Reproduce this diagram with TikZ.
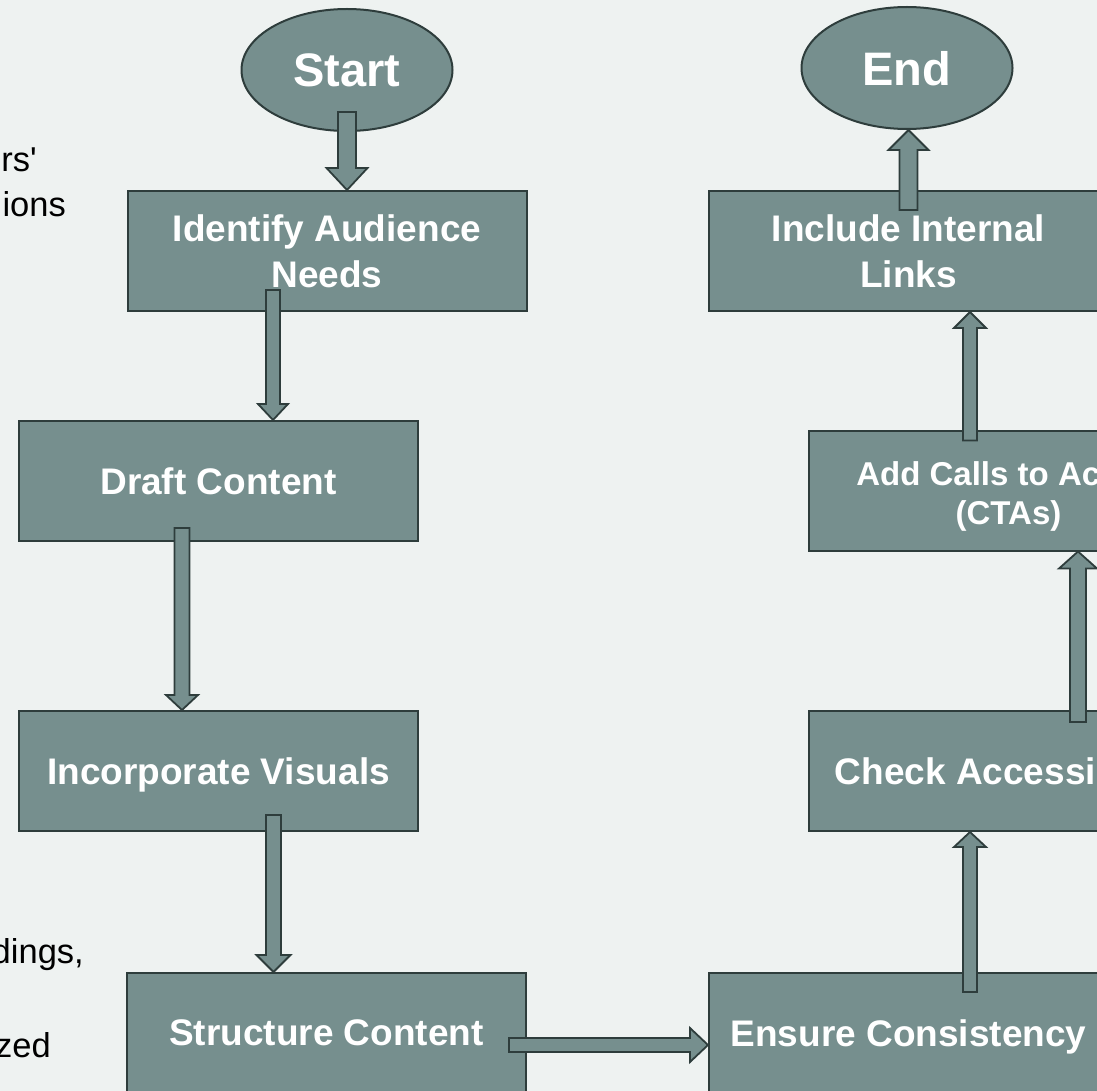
\documentclass[tikz,border=0pt]{standalone}
\usepackage{fontspec}
\setmainfont{Liberation Sans}
\newfontfamily\fragfont{Liberation Sans}
\usetikzlibrary{calc,shapes.geometric}
\definecolor{bgc}{HTML}{EEF2F1}
\definecolor{boxc}{HTML}{768F8E}
\definecolor{edgec}{HTML}{2E3D3C}
\tikzset{
  base/.style={draw=edgec, fill=boxc, line width=2pt, text=white, align=center, inner sep=0pt,
    font=\bfseries\fontsize{37}{46}\selectfont},
  stepbox/.style={base, rectangle, minimum width=399pt, minimum height=120pt},
  oneline/.style={text depth=0pt},
  term/.style={base, ellipse, minimum width=211pt, minimum height=122pt,
    font=\bfseries\fontsize{47}{56}\selectfont},
  barrow/.style={draw=edgec, fill=boxc, line width=1.8pt, line join=miter},
  frag/.style={anchor=base east, inner sep=0pt, text=black,
    font=\fragfont\fontsize{34.5}{40}\selectfont}
}
% block arrow: from, to, shaft half width, head half width, head length
\newcommand\blockarrow[5]{%
  \coordinate (ba-h) at ($(#2)!#5!(#1)$);
  \draw[barrow] ($(#1)!#3!90:(#2)$) -- ($(ba-h)!#3!90:(#2)$) -- ($(ba-h)!#4!90:(#2)$)
    -- (#2) -- ($(ba-h)!#4!-90:(#2)$) -- ($(ba-h)!#3!-90:(#2)$) -- ($(#1)!#3!-90:(#2)$) -- cycle;
}
\begin{document}
\begin{tikzpicture}[x=1pt, y=-1pt]
\useasboundingbox (0,0) rectangle (1097,1091);
\fill[bgc] (0,0) rectangle (1097,1091);
\clip (0,0) rectangle (1097,1091);

% partially visible text at the left edge
\node[frag] (f1) at (37,172) {rs'};
\node[frag] (f2) at (66,217) {ions};
\node[frag] (f3) at (84,963) {dings,};
\node[frag] (f4) at (51,1057) {zed};

% terminals
\node[term, oneline] (start) at (347,70) {Start};
\node[term, oneline] (end) at (907,68) {End};

% steps
\node[stepbox] (idn) at (327,251) {Identify Audience\\Needs};
\node[stepbox, oneline] (draft) at (218.5,481) {Draft Content};
\node[stepbox, oneline] (inc) at (218.5,771) {Incorporate Visuals};
\node[stepbox, oneline] (str) at (326.5,1033) {Structure Content};
\node[stepbox, oneline] (ens) at (908.5,1033) {Ensure Consistency};
\node[stepbox, oneline] (chk) at (1008.5,771) {Check Accessibility};
\node[stepbox, font=\bfseries\fontsize{33}{39}\selectfont] (cta) at (1008.5,490.5)
  {\rule{0pt}{35pt}Add Calls to Action\\(CTAs)};
\node[stepbox] (il) at (908.5,251) {Include Internal\\Links};

% arrow end points
\coordinate (a1s) at ($(start.center)+(0,42)$);
\coordinate (a1e) at (a1s |- idn.north);
\coordinate (a2s) at ($(idn.south)+(-54,-22)$);
\coordinate (a2e) at (a2s |- draft.north);
\coordinate (a3s) at ($(draft.south)+(-36.5,-14)$);
\coordinate (a3e) at (a3s |- inc.north);
\coordinate (a4s) at ($(inc.south)+(55,-17)$);
\coordinate (a4e) at (a4s |- str.north);
\coordinate (a5s) at ($(str.east)+(-18,12)$);
\coordinate (a5e) at (a5s -| ens.west);
\coordinate (a6s) at ($(ens.north)+(61.5,20)$);
\coordinate (a6e) at (a6s |- chk.south);
\coordinate (a7s) at ($(chk.north)+(69.5,12)$);
\coordinate (a7e) at (a7s |- cta.south);
\coordinate (a8s) at ($(cta.north)+(-38.5,11)$);
\coordinate (a8e) at (a8s |- il.south);
\coordinate (a9s) at ($(il.north)+(0,20)$);
\coordinate (a9e) at (a9s |- end.south);

% block arrows
\blockarrow{a1s}{a1e}{9pt}{20.5pt}{22pt}
\blockarrow{a2s}{a2e}{7pt}{15pt}{16pt}
\blockarrow{a3s}{a3e}{7.5pt}{16pt}{15pt}
\blockarrow{a4s}{a4e}{7.5pt}{17pt}{17pt}
\blockarrow{a5s}{a5e}{7pt}{17pt}{18pt}
\blockarrow{a6s}{a6e}{7pt}{16pt}{15pt}
\blockarrow{a7s}{a7e}{8pt}{19pt}{17pt}
\blockarrow{a8s}{a8e}{7pt}{16pt}{16pt}
\blockarrow{a9s}{a9e}{9pt}{20pt}{20pt}
\end{tikzpicture}
\end{document}
